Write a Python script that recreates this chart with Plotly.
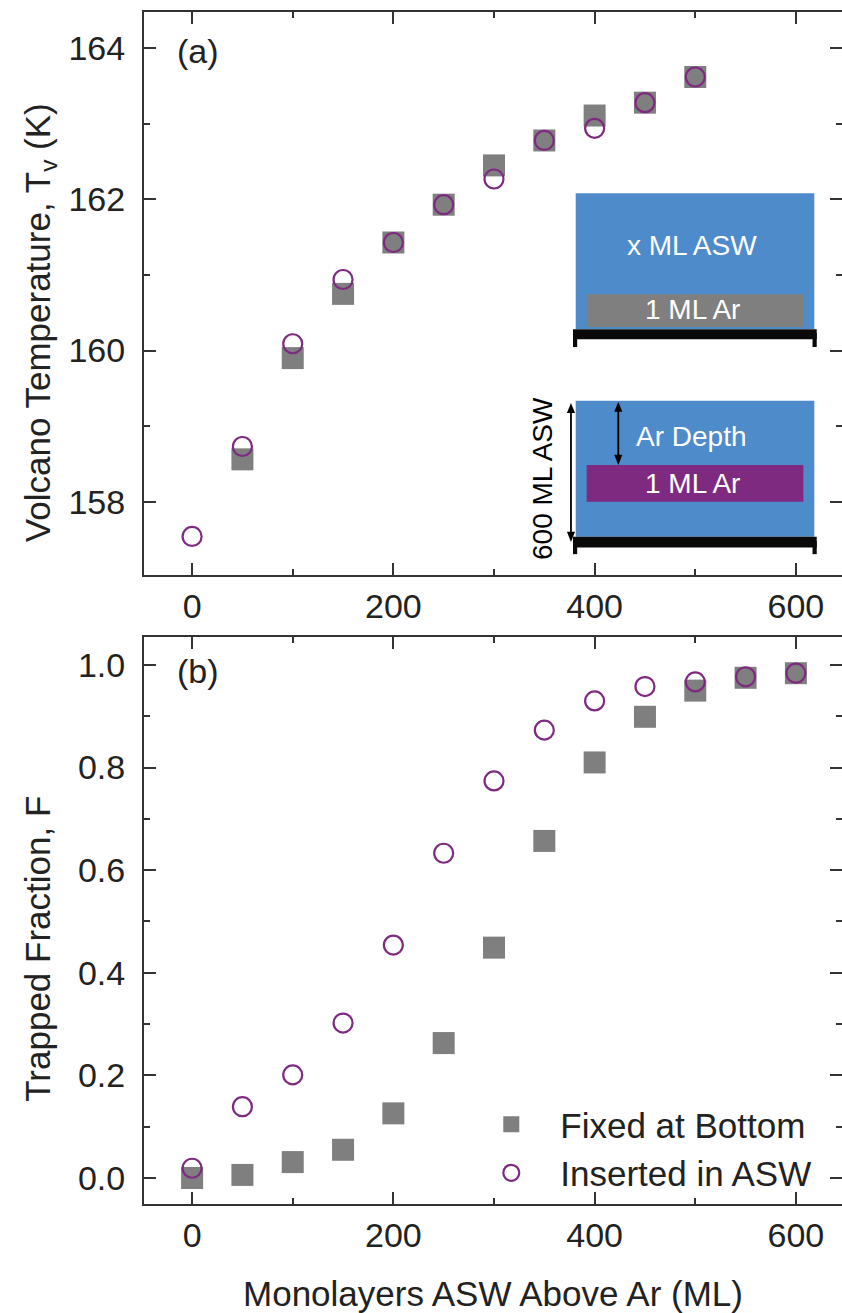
import plotly.graph_objects as go

# ---------------- data ----------------
x_top_fixed = [50, 100, 150, 200, 250, 300, 350, 400, 450, 500]
tv_fixed = [158.56, 159.90, 160.75, 161.43, 161.93, 162.45, 162.78, 163.11, 163.28, 163.62]
x_top_ins = [0, 50, 100, 150, 200, 250, 300, 350, 400, 450, 500]
tv_ins = [157.54, 158.73, 160.09, 160.94, 161.43, 161.93, 162.27, 162.78, 162.94, 163.28, 163.62]

x_bot = [0, 50, 100, 150, 200, 250, 300, 350, 400, 450, 500, 550, 600]
f_fixed = [0.0, 0.006, 0.031, 0.055, 0.126, 0.263, 0.449, 0.657, 0.810, 0.899, 0.950, 0.975, 0.984]
f_ins = [0.019, 0.139, 0.201, 0.302, 0.454, 0.633, 0.774, 0.873, 0.930, 0.958, 0.967, 0.977, 0.984]

series_names = ["Fixed at Bottom", "Inserted in ASW"]

GRAY = "#7f7f7f"
PURPLE = "#7e2a80"
BLUE = "#4e8bca"
AX = "#333333"
TXT = "#222222"
FONT = "Arial, Liberation Sans, sans-serif"

fig = go.Figure()

sq = dict(symbol="square", size=22, color=GRAY, line=dict(width=0))
ci = dict(symbol="circle-open", size=19, color=PURPLE, line=dict(width=2.2, color=PURPLE))

fig.add_trace(go.Scatter(x=x_top_fixed, y=tv_fixed, mode="markers", marker=sq,
                         xaxis="x", yaxis="y", showlegend=False))
fig.add_trace(go.Scatter(x=x_top_ins, y=tv_ins, mode="markers", marker=ci,
                         xaxis="x", yaxis="y", showlegend=False))
fig.add_trace(go.Scatter(x=x_bot, y=f_fixed, mode="markers", marker=sq, name=series_names[0],
                         xaxis="x2", yaxis="y2"))
fig.add_trace(go.Scatter(x=x_bot, y=f_ins, mode="markers", marker=ci, name=series_names[1],
                         xaxis="x2", yaxis="y2"))

common_axis = dict(
    showline=True, linecolor=AX, linewidth=2, mirror="ticks",
    ticks="inside", ticklen=12, tickwidth=2, tickcolor=AX,
    showgrid=False, zeroline=False, automargin=False,
    tickfont=dict(family=FONT, size=34, color=TXT),
)

xr = [-47.8, 645.8]
fig.update_layout(
    width=842, height=1313,
    margin=dict(l=144, r=0, t=12, b=109, autoexpand=False),
    plot_bgcolor="white", paper_bgcolor="white",
    font=dict(family=FONT, size=34, color=TXT),
    xaxis=dict(**common_axis, domain=[0, 1], anchor="y", range=xr,
               tick0=0, dtick=200, ticklabelstandoff=0,
               minor=dict(ticks="inside", ticklen=6, dtick=100, tickwidth=2, tickcolor=AX)),
    yaxis=dict(**common_axis, domain=[0.5277, 1], anchor="x", range=[157.03, 164.48],
               tick0=158, dtick=2, ticklabelstandoff=10,
               minor=dict(ticks="inside", ticklen=6, dtick=1, tickwidth=2, tickcolor=AX)),
    xaxis2=dict(**common_axis, domain=[0, 1], anchor="y2", range=xr,
                tick0=0, dtick=200, ticklabelstandoff=0,
                minor=dict(ticks="inside", ticklen=6, dtick=100, tickwidth=2, tickcolor=AX),
                title=dict(text="Monolayers ASW Above Ar (ML)",
                           font=dict(family=FONT, size=35, color=TXT), standoff=29)),
    yaxis2=dict(**common_axis, domain=[0, 0.4757], anchor="x2", range=[-0.0507, 1.0546],
                tick0=0, dtick=0.2, tickformat=".1f", ticklabelstandoff=10,
                minor=dict(ticks="inside", ticklen=6, dtick=0.1, tickwidth=2, tickcolor=AX)),
    legend=dict(x=0.456, y=0.0914, xanchor="left", yanchor="top",
                bgcolor="rgba(0,0,0,0)", font=dict(family=FONT, size=35, color=TXT),
                itemwidth=88, tracegroupgap=0),
)

# ---------------- y-axis titles (as rotated text, placed like the original) ----------------
fig.add_annotation(text="Volcano Temperature, T<sub>v</sub> (K)", xref="paper", yref="y domain",
                   x=-0.149, y=0.449, xanchor="center", yanchor="middle", textangle=-90,
                   showarrow=False, font=dict(family=FONT, size=35, color=TXT))
fig.add_annotation(text="Trapped Fraction, F", xref="paper", yref="y2 domain",
                   x=-0.152, y=0.45, xanchor="center", yanchor="middle", textangle=-90,
                   showarrow=False, font=dict(family=FONT, size=35, color=TXT))

# ---------------- panel labels ----------------
fig.add_annotation(text="(a)", xref="x domain", yref="y domain", x=0.045, y=0.93,
                   xanchor="left", yanchor="middle", showarrow=False,
                   font=dict(family=FONT, size=34, color=TXT))
fig.add_annotation(text="(b)", xref="x2 domain", yref="y2 domain", x=0.045, y=0.94,
                   xanchor="left", yanchor="middle", showarrow=False,
                   font=dict(family=FONT, size=34, color=TXT))

# ---------------- inset schematic (top panel) ----------------
XR, YR = "x domain", "y domain"
def rect(x0, x1, y0, y1, color):
    fig.add_shape(type="rect", xref=XR, yref=YR, x0=x0, x1=x1, y0=y0, y1=y1,
                  fillcolor=color, line=dict(width=0), layer="above")

bx0, bx1 = 0.6185, 0.9603
lx0, lx1 = 0.6342, 0.9446
kx0, kx1 = 0.6146, 0.9638

# upper schematic
rect(bx0, bx1, 0.437, 0.678, BLUE)
rect(lx0, lx1, 0.4405, 0.4986, GRAY)
rect(kx0, kx1, 0.4186, 0.4364, "#0a0a0a")
rect(kx0, kx0 + 0.006, 0.405, 0.43, "#0a0a0a")
rect(kx1 - 0.006, kx1, 0.405, 0.43, "#0a0a0a")

# lower schematic
rect(bx0, bx1, 0.068, 0.3096, BLUE)
rect(lx0, lx1, 0.1302, 0.1954, PURPLE)
rect(kx0, kx1, 0.049, 0.068, "#0a0a0a")
rect(kx0, kx0 + 0.006, 0.037, 0.06, "#0a0a0a")
rect(kx1 - 0.006, kx1, 0.037, 0.06, "#0a0a0a")

def itext(t, x, y, color="white", angle=0):
    fig.add_annotation(text=t, xref=XR, yref=YR, x=x, y=y, showarrow=False,
                       xanchor="center", yanchor="middle", textangle=angle,
                       font=dict(family=FONT, size=28, color=color))

itext("x ML ASW", 0.7847, 0.5861)
itext("1 ML Ar", 0.7865, 0.4707)
itext("Ar Depth", 0.7847, 0.2456)
itext("1 ML Ar", 0.7865, 0.1629)
itext("600 ML ASW", 0.5716, 0.1723, color="black", angle=-90)

# double-headed vertical arrows drawn as shapes
HW, HH = 0.0058, 0.018
def darrow(x, y0, y1):
    fig.add_shape(type="line", xref=XR, yref=YR, x0=x, x1=x, y0=y0 + HH * 0.6, y1=y1 - HH * 0.6,
                  line=dict(color="black", width=1.8), layer="above")
    fig.add_shape(type="path", xref=XR, yref=YR, layer="above",
                  path=f"M {x} {y1} L {x - HW} {y1 - HH} L {x + HW} {y1 - HH} Z",
                  fillcolor="black", line=dict(width=0))
    fig.add_shape(type="path", xref=XR, yref=YR, layer="above",
                  path=f"M {x} {y0} L {x - HW} {y0 + HH} L {x + HW} {y0 + HH} Z",
                  fillcolor="black", line=dict(width=0))

darrow(0.6795, 0.1954, 0.3078)
darrow(0.6117, 0.0586, 0.3055)

fig.write_html("out.html", config={"displayModeBar": False},
               post_script="document.body.style.margin='0';document.body.style.overflow='hidden';")
